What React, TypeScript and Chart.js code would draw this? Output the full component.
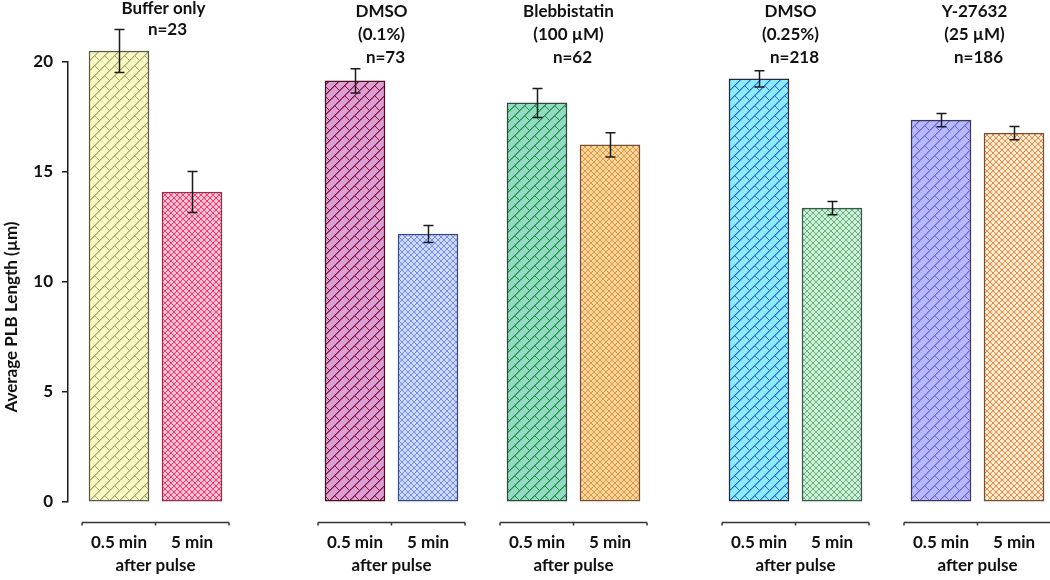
import React, { useEffect, useRef } from "react";
import { Chart, registerables } from "chart.js";

Chart.register(...registerables);

// ---------- data ----------
const groupLabels: string[][] = [
  ["Buffer only", "n=23"],
  ["DMSO", "(0.1%)", "n=73"],
  ["Blebbistatin", "(100 µM)", "n=62"],
  ["DMSO", "(0.25%)", "n=218"],
  ["Y-27632", "(25 µM)", "n=186"],
];
const timeLabels = ["0.5 min", "5 min"];
const subLabel = "after pulse";
const mean05 = [20.5, 19.14, 18.14, 19.23, 17.36];
const err05 = [0.98, 0.55, 0.66, 0.37, 0.3];
const mean5 = [14.09, 12.18, 16.23, 13.36, 16.77];
const err5 = [0.93, 0.39, 0.55, 0.3, 0.3];
const yTitle = "Average PLB Length (µm)";

// ---------- layout / style ----------
const GROUP_CENTERS = [87.5, 323.5, 505.5, 727.5, 909.5]; // x-scale units (irregular panel spacing)
const HALF_PITCH = 36.5;
const LABEL_SHIFT = [8, -10, -5, -5, -3];
const FONT = "Lato, 'Open Sans', sans-serif";

const style05 = [
  { bg: "#fafac0", line: "#a8a878", border: "#5a5a48" },
  { bg: "#d8a0d6", line: "#8e1232", border: "#4a1020" },
  { bg: "#96d8c6", line: "#17963a", border: "#304840" },
  { bg: "#88eeff", line: "#3c62ea", border: "#282838" },
  { bg: "#b8b8ff", line: "#6a6ae8", border: "#383860" },
];
const style5 = [
  { bg: "#ffc2d2", line: "#ff2466", border: "#903048" },
  { bg: "#d2daff", line: "#5e84ff", border: "#384880" },
  { bg: "#ffd498", line: "#d89440", border: "#705038" },
  { bg: "#c8f4d0", line: "#6aa088", border: "#385848" },
  { bg: "#ffecd2", line: "#ee7c30", border: "#705038" },
];

function brickPattern(bg: string, line: string): CanvasPattern | string {
  const n = 10;
  const t = document.createElement("canvas");
  t.width = n;
  t.height = n;
  const c = t.getContext("2d");
  if (!c) return bg;
  c.fillStyle = bg;
  c.fillRect(0, 0, n, n);
  c.fillStyle = line;
  for (let i = 0; i < n; i++) {
    c.globalAlpha = 1;
    c.fillRect(i, n - 1 - i, 1, 1);
    c.globalAlpha = 0.6;
    c.fillRect((i + 1) % n, n - 1 - i, 1, 1);
  }
  c.globalAlpha = 1;
  for (let k = 0; k < 5; k++) c.fillRect(4 + k, 5 + k, 1, 1);
  const p = c.createPattern(t, "repeat");
  return p || bg;
}

function crossPattern(bg: string, line: string): CanvasPattern | string {
  const n = 6;
  const t = document.createElement("canvas");
  t.width = n;
  t.height = n;
  const c = t.getContext("2d");
  if (!c) return bg;
  c.fillStyle = bg;
  c.fillRect(0, 0, n, n);
  c.fillStyle = line;
  for (let i = 0; i < n; i++) {
    c.globalAlpha = 0.9;
    c.fillRect(i, i, 1, 1);
    c.fillRect(i, n - 1 - i, 1, 1);
  }
  const p = c.createPattern(t, "repeat");
  return p || bg;
}

const decorPlugin = {
  id: "decor",
  afterDatasetsDraw(chart: any) {
    const ctx: CanvasRenderingContext2D = chart.ctx;
    const y = chart.scales.y;
    const x = chart.scales.x;
    ctx.save();
    // error bars
    const errs = [err05, err5];
    const means = [mean05, mean5];
    ctx.strokeStyle = "#1a1a1a";
    ctx.lineWidth = 1.5;
    for (let d = 0; d < 2; d++) {
      const meta = chart.getDatasetMeta(d);
      meta.data.forEach((bar: any, i: number) => {
        const top = y.getPixelForValue(means[d][i] + errs[d][i]);
        const bot = y.getPixelForValue(means[d][i] - errs[d][i]);
        const bx = Math.round(bar.x) + 0.5;
        ctx.beginPath();
        ctx.moveTo(bx, top);
        ctx.lineTo(bx, bot);
        ctx.moveTo(bx - 5, top);
        ctx.lineTo(bx + 5, top);
        ctx.moveTo(bx - 5, bot);
        ctx.lineTo(bx + 5, bot);
        ctx.stroke();
      });
    }
    // group labels on top
    ctx.fillStyle = "#111";
    ctx.textAlign = "center";
    ctx.textBaseline = "middle";
    ctx.font = `bold 17px ${FONT}`;
    groupLabels.forEach((lines, g) => {
      const cx = x.getPixelForValue(GROUP_CENTERS[g]) + LABEL_SHIFT[g];
      const step = lines.length === 2 ? 21 : 23;
      const start = lines.length === 2 ? 9 : 12;
      lines.forEach((t, k) => {
        const extra = k === lines.length - 1 ? 4 : 0;
        ctx.fillText(t, cx + extra, start + k * step);
      });
    });
    // bottom brackets and labels
    const bottom = chart.chartArea.bottom;
    const lineY = bottom + 20.5;
    GROUP_CENTERS.forEach((gc) => {
      const cx = x.getPixelForValue(gc);
      const l = x.getPixelForValue(gc - HALF_PITCH) - 37;
      const r = x.getPixelForValue(gc + HALF_PITCH) + 37;
      ctx.strokeStyle = "#333";
      ctx.lineWidth = 1.5;
      ctx.beginPath();
      ctx.moveTo(l, lineY);
      ctx.lineTo(r, lineY);
      ctx.moveTo(l, lineY);
      ctx.lineTo(l, lineY + 3);
      ctx.moveTo(r, lineY);
      ctx.lineTo(r, lineY + 3);
      ctx.moveTo(cx, lineY);
      ctx.lineTo(cx, lineY + 3);
      ctx.stroke();
      ctx.font = `bold 17px ${FONT}`;
      ctx.fillText(timeLabels[0], x.getPixelForValue(gc - HALF_PITCH), bottom + 41);
      ctx.fillText(timeLabels[1], x.getPixelForValue(gc + HALF_PITCH), bottom + 41);
      ctx.fillText(subLabel, cx, bottom + 64);
    });
    // y title
    ctx.translate(12, 317);
    ctx.rotate(-Math.PI / 2);
    ctx.font = `bold 17px ${FONT}`;
    ctx.fillText(yTitle, 0, 0);
    ctx.restore();
  },
};

export default function App() {
  const ref = useRef<HTMLCanvasElement | null>(null);
  useEffect(() => {
    if (!ref.current) return;
    const chart = new Chart(ref.current, {
      type: "bar",
      data: {
        datasets: [
          {
            label: timeLabels[0],
            data: mean05.map((v, i) => ({ x: GROUP_CENTERS[i] - HALF_PITCH, y: v })),
            backgroundColor: style05.map((s) => brickPattern(s.bg, s.line)) as any,
            borderColor: style05.map((s) => s.border),
            borderWidth: 1.5,
            borderSkipped: false,
            barThickness: 60,
            grouped: false,
            clip: false as any,
          },
          {
            label: timeLabels[1],
            data: mean5.map((v, i) => ({ x: GROUP_CENTERS[i] + HALF_PITCH, y: v })),
            backgroundColor: style5.map((s) => crossPattern(s.bg, s.line)) as any,
            borderColor: style5.map((s) => s.border),
            borderWidth: 1.5,
            borderSkipped: false,
            barThickness: 60,
            grouped: false,
            clip: false as any,
          },
        ],
      },
      options: {
        responsive: false,
        animation: false,
        devicePixelRatio: 1,
        layout: { padding: { top: 62, bottom: 78, left: 0, right: 0 } },
        plugins: { legend: { display: false }, tooltip: { enabled: false } },
        scales: {
          x: { type: "linear", min: 0, max: 982, display: false, offset: false },
          y: {
            min: 0,
            max: 20,
            afterFit: (s: any) => {
              s.width = 68;
            },
            ticks: {
              stepSize: 5,
              padding: 9,
              color: "#111",
              font: { family: FONT, size: 17, weight: "bold" },
            },
            grid: {
              drawOnChartArea: false,
              drawTicks: true,
              tickLength: 6,
              color: "#1a1a1a",
              lineWidth: 1.5,
            },
            border: { display: true, color: "#1a1a1a", width: 1.5 },
          },
        },
      },
      plugins: [decorPlugin],
    } as any);
    return () => chart.destroy();
  }, []);
  return (
    <div style={{ position: "fixed", left: 0, top: 0, width: 1050, height: 580, background: "#fff" }}>
      <canvas ref={ref} width={1050} height={580} />
    </div>
  );
}
